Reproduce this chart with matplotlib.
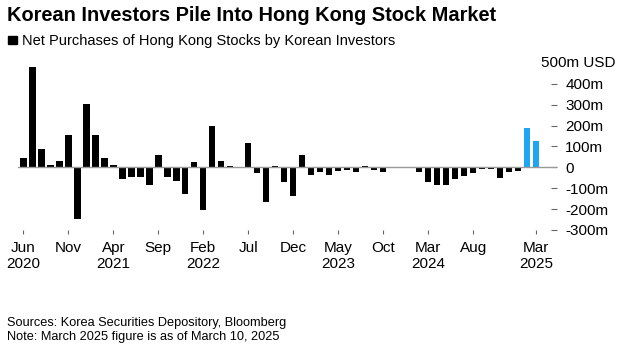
import matplotlib
matplotlib.use('Agg')
import matplotlib.pyplot as plt
from matplotlib.patches import Rectangle

plt.rcParams['font.family'] = ['Liberation Sans', 'DejaVu Sans']

# monthly net purchases, million USD, Jun 2020 .. Mar 2025
months = ['2020-06', '2020-07', '2020-08', '2020-09', '2020-10', '2020-11', '2020-12',
          '2021-01', '2021-02', '2021-03', '2021-04', '2021-05', '2021-06', '2021-07',
          '2021-08', '2021-09', '2021-10', '2021-11', '2021-12',
          '2022-01', '2022-02', '2022-03', '2022-04', '2022-05', '2022-06', '2022-07',
          '2022-08', '2022-09', '2022-10', '2022-11', '2022-12',
          '2023-01', '2023-02', '2023-03', '2023-04', '2023-05', '2023-06', '2023-07',
          '2023-08', '2023-09', '2023-10', '2023-11', '2023-12',
          '2024-01', '2024-02', '2024-03', '2024-04', '2024-05', '2024-06', '2024-07',
          '2024-08', '2024-09', '2024-10', '2024-11', '2024-12',
          '2025-01', '2025-02', '2025-03']
net_purchases = [46, 483, 88, 11, 30, 155, -248,
                 304, 155, 46, 11, -56, -46, -46,
                 -85, 59, -46, -66, -128,
                 26, -205, 198, 30, 6, -5, 118,
                 -27, -166, 5, -70, -137,
                 59, -37, -22, -37, -18, -13, -22,
                 4, -13, -22, -4, -4,
                 3, -22, -70, -85, -85, -56, -42,
                 -27, -6, -6, -51, -22,
                 -18, 189, 126]
highlight = ['2025-02', '2025-03']

tick_months = ['2020-06', '2020-11', '2021-04', '2021-09', '2022-02', '2022-07',
               '2022-12', '2023-05', '2023-10', '2024-03', '2024-08', '2025-03']
tick_labels = ['Jun\n2020', 'Nov', 'Apr\n2021', 'Sep', 'Feb\n2022', 'Jul',
               'Dec', 'May\n2023', 'Oct', 'Mar\n2024', 'Aug', 'Mar\n2025']
y_ticks = [-300, -200, -100, 0, 100, 200, 300, 400]
y_labels = ['-300m', '-200m', '-100m', '0', '100m', '200m', '300m', '400m']

fig = plt.figure(figsize=(6.18, 3.51), dpi=100)
ax = fig.add_axes([0.029, 0.345, 0.872, 0.4755])

x = list(range(len(months)))
colors = ['#1fa5f2' if m in highlight else '#000000' for m in months]
ax.bar(x, net_purchases, width=0.72, color=colors, zorder=2)
ax.axhline(0, color='#9a9a9a', lw=1, zorder=3)

ax.set_xlim(-0.6, 59.3)
ax.set_ylim(-300, 500)
for s in ax.spines.values():
    s.set_visible(False)

ax.set_xticks([months.index(m) for m in tick_months])
ax.set_xticklabels(tick_labels, fontsize=11, linespacing=1.2)
ax.tick_params(axis='x', direction='out', length=3, width=0.8, color='#666666', pad=5)

ax.yaxis.tick_right()
ax.set_yticks(y_ticks)
ax.set_yticklabels(y_labels, fontsize=11)
ax.tick_params(axis='y', direction='in', length=4, width=0.8, color='#666666', pad=6)
ax.text(0.97, 500, '500m USD', transform=ax.get_yaxis_transform(), fontsize=11,
        ha='left', va='center')

fig.text(0.011, 0.957, 'Korean Investors Pile Into Hong Kong Stock Market',
         fontsize=14.4, fontweight='bold', ha='left', va='center')
fig.patches.append(Rectangle((8 / 618, 1 - 44 / 351), 9 / 618, 8 / 351,
                             transform=fig.transFigure, color='black'))
fig.text(0.035, 0.883, 'Net Purchases of Hong Kong Stocks by Korean Investors',
         fontsize=10.5, ha='left', va='center')
fig.text(0.011, 0.080, 'Sources: Korea Securities Depository, Bloomberg',
         fontsize=9.2, ha='left', va='center')
fig.text(0.011, 0.040, 'Note: March 2025 figure is as of March 10, 2025',
         fontsize=9.2, ha='left', va='center')

fig.savefig('out.png', dpi=100)
